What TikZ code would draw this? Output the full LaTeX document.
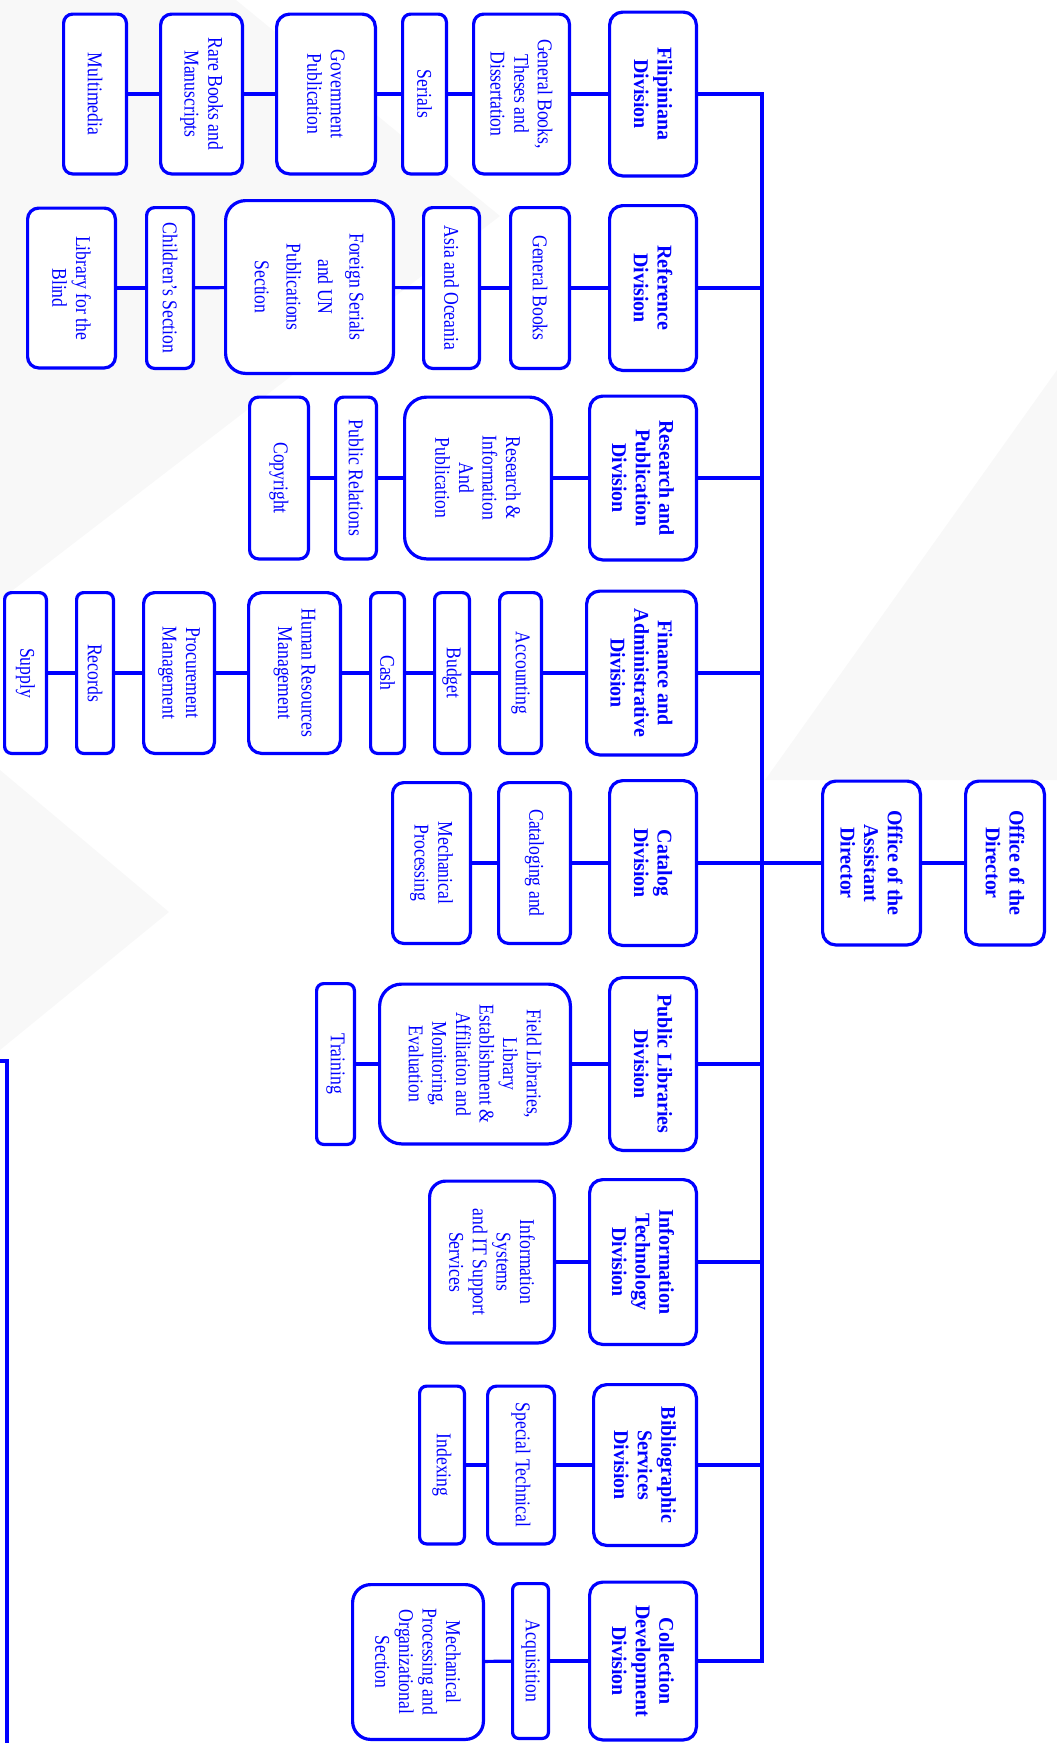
\documentclass[tikz,border=0pt]{standalone}
\usepackage{fontspec}
\newfontfamily\regfont{Liberation Serif}[FakeStretch=0.84]
\newfontfamily\headfont{Liberation Serif}[FakeStretch=0.95]
\definecolor{orgblue}{RGB}{0,0,255}
\definecolor{bgtint}{RGB}{248,248,248}

\begin{document}
\begin{tikzpicture}[x=1pt,y=-1pt,
  unit/.style={draw=orgblue,line width=3.2pt,fill=white,rotate=-90,align=center,
    inner sep=1pt,text=orgblue,font=\regfont\fontsize{21}{23.6}\selectfont},
  division/.style={unit,font=\headfont\bfseries\fontsize{21}{23.6}\selectfont},
  link/.style={draw=orgblue,line width=3.2pt},
  trunk/.style={draw=orgblue,line width=4pt,line join=miter}]
\useasboundingbox (0,0) rectangle (1057,1743);
% faint background shapes
\fill[bgtint] (0,0) -- (236,0) -- (500,216) -- (277,387) -- (0,600) -- cycle;
\fill[bgtint] (0,770) -- (169,912) -- (0,1050) -- cycle;
\fill[bgtint] (765,780) -- (1057,370) -- (1057,780) -- cycle;

% divisions
\foreach \nm/\cx/\cy/\w/\h/\r/\txt in {
  fil/653/94/90/167/13/{Filipiniana\\Division},
  ref/653/288/90/168/13/{Reference\\Division},
  rpd/643/478/110/167/13/{Research and\\Publication\\Division},
  fad/641.5/673/113/167/13/{Finance and\\Administrative\\Division},
  cat/653/863/90/168/13/{Catalog\\Division},
  oad/871.5/863/101/167/13/{Office of the\\Assistant\\Director},
  od/1005/863/82/167/13/{Office of the\\Director},
  pld/653/1064/90/176/13/{Public Libraries\\Division},
  itd/643/1262/110/168/13/{Information\\Technology\\Division},
  bsd/645/1465/106/164/13/{Bibliographic\\Services\\Division},
  cdd/643/1661/110/161/13/{Collection\\Development\\Division}%
}{
  \node[division,minimum width=\h-3.2,minimum height=\w-3.2,rounded corners=\r] (\nm) at (\cx,\cy) {\txt};
}

% sections
\foreach \nm/\cx/\cy/\w/\h/\r/\txt in {
  gbt/521.5/94/99/163/10/{General Books,\\Theses and\\Dissertation},
  ser/424.5/94/47/163/8/{Serials},
  gov/326/94/102/163/13/{Government\\Publication},
  rare/201.5/94/85/163/11/{Rare Books and\\Manuscripts},
  mul/95/94/66/163/9/{Multimedia},
  gbk/540/288/62/164/9/{General Books},
  asia/451.5/288/59/164/9/{Asia and Oceania},
  fsun/309.5/287/171/176/20/{Foreign Serials\\[8pt]and UN\\[8pt]Publications\\[8pt]Section},
  child/170/288/50/164/8/{Children’s Section},
  blind/71.5/288/91/163/11/{Library for the\\Blind},
  ria/478/478/150/165/22/{Research \&\\Information\\And\\Publication},
  pr/356/478/44/165/8/{Public Relations},
  copy/279/478/62/165/9/{Copyright},
  acc/520.5/673/45/164/8/{Accounting},
  bud/452/673/38/164/7/{Budget},
  cash/387.5/673/37/164/7/{Cash},
  hrm/294.5/673/95/164/13/{Human Resources\\Management},
  proc/179/673/74/164/11/{Procurement\\Management},
  rec/95/673/40/164/7/{Records},
  sup/25.5/673/45/164/7/{Supply},
  catg/534.5/863/75/164/10/{Cataloging and},
  mech/431.5/863/81/164/11/{Mechanical\\Processing},
  fld/475/1064/194/163/22/{Field Libraries,\\Library\\Establishment \&\\Affiliation and\\Monitoring,\\Evaluation},
  trn/335.5/1064/41/164/7/{Training},
  iss/492/1262/128/165/16/{Information\\Systems\\and IT Support\\Services},
  stc/521/1465/70/161/9/{Special Technical},
  idx/442/1465/48/161/7/{Indexing},
  acq/530.5/1661/39/158/6/{Acquisition},
  mpo/418/1662/134/158/18/{Mechanical\\Processing and\\Organizational\\Section}%
}{
  \node[unit,minimum width=\h-3.2,minimum height=\w-3.2,rounded corners=\r] (\nm) at (\cx,\cy) {\txt};
}

% connectors
\coordinate (trk) at (762,0);
\draw[trunk] (fil) -- (fil -| trk) -- (cdd -| trk) -- (cdd);
\foreach \d in {ref,rpd,fad,pld,itd,bsd}
  \draw[link] (\d) -- (\d -| trk);
\foreach \a/\b in {fil/gbt,gbt/ser,ser/gov,gov/rare,rare/mul,
  ref/gbk,gbk/asia,asia/fsun,fsun/child,child/blind,
  rpd/ria,ria/pr,pr/copy,
  fad/acc,acc/bud,bud/cash,cash/hrm,hrm/proc,proc/rec,rec/sup,
  cat/catg,catg/mech,cat/oad,oad/od,
  pld/fld,fld/trn,itd/iss,bsd/stc,stc/idx,cdd/acq,acq/mpo}
  \draw[link] (\a) -- (\b);

% cut-off line on the left
\coordinate (cuttop) at (0,1061);
\coordinate (cutend) at (7,1743);
\draw[trunk] (cuttop) -- (cuttop -| cutend) -- (cutend);
\end{tikzpicture}
\end{document}
